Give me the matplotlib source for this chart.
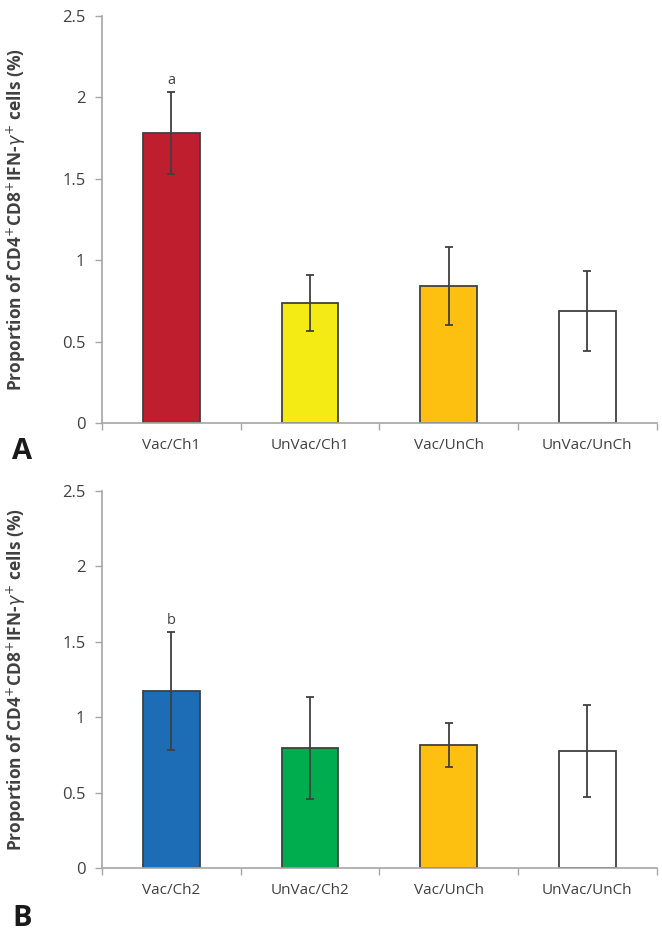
import matplotlib
matplotlib.use("Agg")
import matplotlib.pyplot as plt
from matplotlib.ticker import FixedLocator, FuncFormatter

plt.rcParams["font.family"] = ["Open Sans", "DejaVu Sans"]

# panel A
groups_a = ["Vac/Ch1", "UnVac/Ch1", "Vac/UnCh", "UnVac/UnCh"]
means_a = [1.78, 0.735, 0.84, 0.686]
errs_a = [0.25, 0.172, 0.24, 0.245]
colors_a = ["#BE1E2D", "#F5EB14", "#FDC010", "#FFFFFF"]

# panel B
groups_b = ["Vac/Ch2", "UnVac/Ch2", "Vac/UnCh", "UnVac/UnCh"]
means_b = [1.175, 0.795, 0.816, 0.776]
errs_b = [0.39, 0.34, 0.147, 0.306]
colors_b = ["#1C6DB5", "#00AD4E", "#FDC010", "#FFFFFF"]

yticks = [0, 0.5, 1, 1.5, 2, 2.5]
ylabel = r"Proportion of CD4$^{+}$CD8$^{+}$IFN-$\gamma^{+}$ cells (%)"
axis_grey = "#A6A6A6"
text_grey = "#404040"


def draw_panel(ax, groups, means, errs, colors, mark):
    x = list(range(len(groups)))
    ax.bar(x, means, width=0.41, color=colors, edgecolor=text_grey,
           linewidth=1.3, zorder=2)
    ax.errorbar(x, means, yerr=errs, fmt="none", ecolor=text_grey,
                elinewidth=1.3, capsize=3, capthick=1.3, zorder=3)
    ax.annotate(mark, (0, means[0] + errs[0]), xytext=(0, 3),
                textcoords="offset points", ha="center", va="bottom",
                fontsize=10.5, color=text_grey)

    ax.set_xlim(-0.5, len(groups) - 0.5)
    ax.set_ylim(0, 2.5)
    ax.set_xticks(x)
    ax.set_xticklabels(groups, fontsize=11, color=text_grey)
    ax.xaxis.set_minor_locator(FixedLocator([i - 0.5 for i in range(len(groups) + 1)]))
    ax.tick_params(axis="x", which="major", length=0, pad=11)
    ax.tick_params(axis="x", which="minor", length=5, width=1, color=axis_grey,
                   direction="out")
    ax.set_yticks(yticks)
    ax.yaxis.set_major_formatter(FuncFormatter(lambda v, _: f"{v:g}"))
    ax.tick_params(axis="y", length=5, width=1, color=axis_grey,
                   labelsize=12, labelcolor=text_grey, pad=7)

    for side in ("top", "right"):
        ax.spines[side].set_visible(False)
    for side in ("left", "bottom"):
        ax.spines[side].set_color(axis_grey)
        ax.spines[side].set_linewidth(1.2)

    ax.set_ylabel(ylabel, fontsize=12.5, fontweight="bold", color=text_grey)
    ax.yaxis.set_label_coords(-0.133, 0.5)


fig = plt.figure(figsize=(6.62, 9.40), dpi=100)
ax_a = fig.add_axes([0.154, 0.55, 0.838, 0.433])
ax_b = fig.add_axes([0.154, 0.0766, 0.838, 0.401])

draw_panel(ax_a, groups_a, means_a, errs_a, colors_a, "a")
draw_panel(ax_b, groups_b, means_b, errs_b, colors_b, "b")

fig.text(12 / 662, 1 - 452 / 940, "A", fontsize=21, fontweight="bold",
         color="#1a1a1a", ha="left", va="center")
fig.text(12 / 662, 1 - 918 / 940, "B", fontsize=21, fontweight="bold",
         color="#1a1a1a", ha="left", va="center")

fig.savefig("out.png", dpi=100)
